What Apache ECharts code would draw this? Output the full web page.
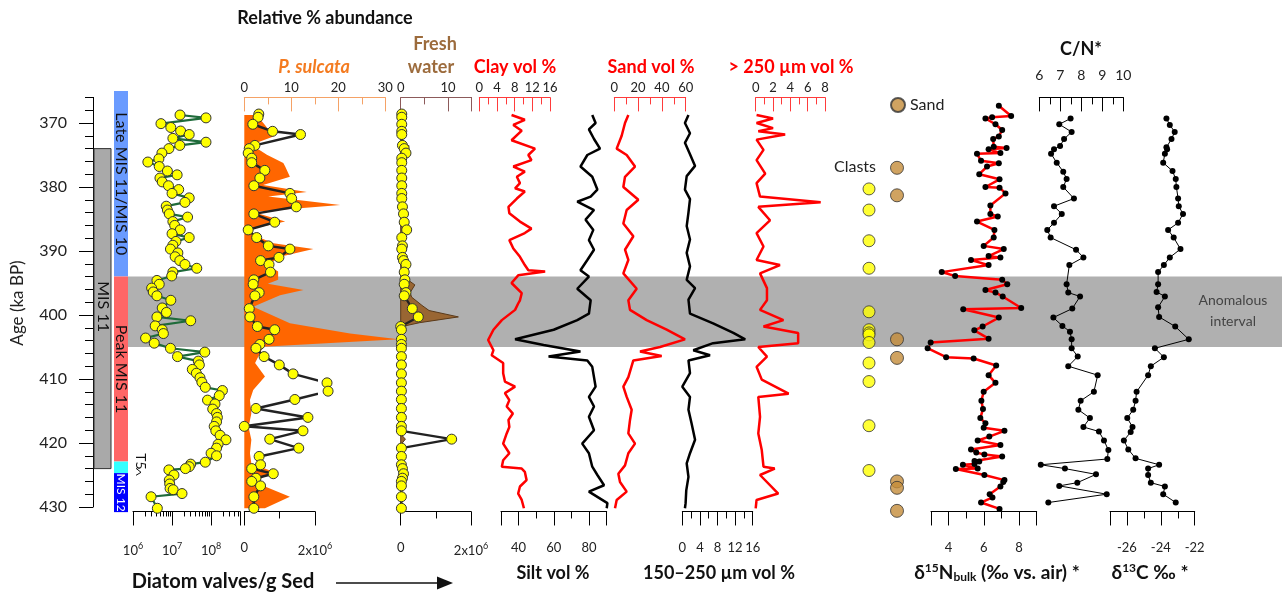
<!DOCTYPE html>
<html><head><meta charset="utf-8">
<script src="https://cdn.jsdelivr.net/npm/echarts@6/dist/echarts.min.js"></script>
<style>html,body{margin:0;padding:0;background:#fff}#c{width:1282px;height:593px}</style>
</head><body><div id="c"></div>
<script>
// ---------------- DATA ----------------
const stageNames = ['Late MIS 11/MIS 10', 'Peak MIS 11', 'T5', 'MIS 12'];
const stageStart = [365, 394, 422.9, 424.7];
const stageEnd = [394, 422.9, 424.7, 430.8];
const misBar = ['MIS 11', 374, 424];
const anomalous = [394, 405];

const diatomAges = [368.75,369.2,370.1,370.7,371.25,371.8,372.4,373.0,373.5,374.0,374.7,375.6,376.1,376.8,377.5,378.1,378.6,379.2,379.8,380.4,381.0,381.7,382.4,383.0,383.6,384.2,384.7,385.4,386.0,386.7,387.3,387.9,388.5,389.1,389.7,390.3,390.9,391.5,392.1,392.7,393.3,393.9,394.6,395.2,395.8,396.4,397.0,397.7,398.9,399.6,400.3,400.9,401.7,402.3,402.9,403.6,404.4,405.2,405.8,406.5,407.2,407.8,408.5,409.1,409.8,410.5,411.3,411.8,412.6,413.3,413.9,414.7,415.4,416.0,416.7,417.4,418.1,418.8,419.5,420.2,420.8,421.6,422.0,423.0,423.3,423.7,424.0,424.2,425.0,425.8,426.4,427.1,427.3,427.9,428.4,430.2];
const diatomValves = [1.6e7,7.4e7,5.2e6,9.3e6,1.66e7,2.75e7,1.05e7,7.4e7,1.58e7,8.3e6,5.5e6,4.6e6,2.4e6,4.7e6,7.6e6,1.35e7,4.9e6,5.6e6,8.1e6,1.48e7,1.0e7,2.75e7,2.14e7,7.1e6,7.6e6,8.5e6,2.5e7,1.05e7,1.17e7,1.62e7,1.0e7,2.75e7,1.26e7,1.05e7,9.1e6,1.41e7,1.2e7,1.58e7,2.14e7,4.3e7,1.05e7,9.8e6,4.1e6,4.7e6,3.0e6,3.3e6,4.1e6,9.3e6,5.6e6,7.2e6,4.1e6,3.0e7,3.7e6,5.6e6,6.0e6,2.1e6,3.5e6,9.1e6,6.9e7,1.38e7,4.7e7,5.0e7,3.3e7,4.2e7,5.2e7,5.8e7,7.1e7,1.95e8,1.62e8,8.1e7,1.26e8,1.1e8,1.38e8,1.45e8,1.38e8,1.2e8,1.32e8,1.7e8,2.4e8,1.51e8,1.38e8,1.0e8,1.38e8,7.1e7,3.0e7,2.75e7,2.2e7,8.3e6,1.12e7,8.5e6,8.7e6,8.9e6,1.07e7,1.8e7,2.9e6,4.2e6];

const sulcAges = [368.6,369.1,370.2,371.3,371.8,373.5,374.0,374.7,375.5,376.2,377.4,378.6,379.8,381.0,381.8,383.1,384.2,385.5,386.7,387.9,389.2,389.7,391.0,391.5,392.1,393.3,394.5,395.2,396.5,397.0,399.0,400.3,401.8,402.3,403.8,404.6,405.2,406.5,407.8,409.2,410.6,411.9,413.2,414.6,416.0,417.4,418.1,419.4,420.8,422.1,423.4,424.0,424.8,425.5,426.0,426.7,428.4,430.2];
const sulcValves = [4.1e5,3.9e5,2.4e5,8.0e5,1.59e6,3.0e5,1.4e5,1.1e5,2.1e5,2.1e5,5.8e5,4.4e5,2.7e5,1.29e6,1.34e6,1.47e6,2.7e5,8.6e5,1.1e5,3.5e5,6.8e5,1.29e6,9.8e5,4.6e5,7.0e5,7.4e5,2.7e5,2.5e5,4.2e5,3.0e5,1.4e5,1.6e5,3.7e5,8.6e5,7.0e5,4.4e5,3.3e5,5.6e5,9.9e5,1.38e6,2.34e6,2.37e6,1.43e6,3.3e5,1.8e6,0,1.66e6,7.2e5,1.54e6,4.2e5,4.6e5,2.1e5,8.2e5,3.3e5,2.1e5,4.6e5,2.7e5,2.7e5];
const freshValves = [3e4,3e4,3e4,3e4,3e4,5e4,1e5,1.5e5,3e4,3e4,3e4,3e4,3e4,3e4,3e4,5e4,8e4,1e5,1.7e5,3e4,5e4,3e4,5e4,8e4,1.5e5,1e5,1.2e5,1e5,1.5e5,1e5,3.3e5,5e5,0,2e4,2e4,2e4,2e4,2e4,2e4,2e4,2e4,2e4,2e4,2e4,2e4,2e4,2e4,1.45e6,2e4,2e4,2e4,5e4,8e4,5e4,2e4,2e4,2e4,2e4];

// [age, %]
const sulcPct = [[368.75,2.6],[370.3,4.4],[372.1,6.2],[373.4,1.5],[374.95,4.8],[376.25,8.3],[376.8,8.7],[378.4,9.7],[379.7,4.0],[380.8,13.3],[381.5,5.1],[382.8,20.4],[383.9,1.9],[385.4,8.7],[386.7,0.5],[387.5,1.9],[388.8,6.2],[389.7,14.7],[390.9,7.6],[392.2,5.0],[393.2,7.2],[394.5,7.2],[395.1,5.0],[396.1,12.6],[396.9,7.6],[398.7,1.9],[401.3,9.7],[402.9,22.5],[403.8,32.8],[404.95,4.0],[407.5,2.3],[409.6,4.4],[411.7,1.9],[413.3,1.2],[415.4,1.5],[417.5,0.9],[419.5,1.5],[421.6,1.2],[423.2,1.5],[424.5,6.2],[426.0,2.3],[426.8,4.4],[428.4,9.7],[430.2,4.4]];
const freshPct = [[368.7,0.3],[373.2,0.3],[373.6,1.8],[374.1,0.4],[386.2,0.4],[386.6,1.2],[387.2,0.4],[392.0,0.8],[393.5,0.8],[394.5,1.5],[395.3,3.0],[396.5,2.0],[397.2,2.3],[398.5,4.5],[399.3,6.0],[400.3,12.2],[401.2,4.0],[401.8,0.3],[403.0,0.0],[418.6,0.0],[419.4,1.0],[420.3,0.0],[430.2,0.2]];

// grain size [age, vol %]
const clay = [[368.75,7.3],[369.5,10.3],[370.3,7.7],[371.2,9.6],[372.7,7.3],[374.0,12.6],[375.0,11.1],[375.8,11.8],[376.8,7.7],[377.6,10.3],[378.4,8.5],[379.4,9.2],[380.2,8.1],[380.7,10.3],[381.8,8.5],[383.1,6.6],[384.1,6.8],[385.4,9.2],[386.5,11.8],[387.2,10.3],[388.3,6.8],[389.6,7.7],[390.9,9.2],[392.2,10.3],[393.0,11.1],[393.2,14.9],[393.8,8.8],[395.0,7.3],[396.6,9.6],[397.7,9.2],[398.2,8.8],[399.2,8.1],[400.8,5.1],[402.3,3.2],[403.9,2.0],[405.5,3.2],[406.3,2.8],[407.5,5.4],[409.1,5.4],[410.4,5.8],[411.2,8.1],[412.2,5.8],[413.3,6.8],[414.3,6.2],[415.4,7.6],[416.4,6.6],[417.5,6.8],[418.5,6.2],[420.1,5.4],[421.6,6.8],[422.7,5.4],[423.7,5.1],[424.0,9.6],[424.5,10.3],[425.8,10.7],[426.8,9.2],[427.9,8.8],[428.9,9.6],[430.2,10.1]];
const silt = [[368.75,81.8],[370.0,83.7],[371.0,79.9],[372.5,82.8],[374.0,86.2],[375.0,79.0],[376.8,75.1],[378.4,81.8],[380.4,84.7],[381.5,80.9],[382.3,73.3],[383.6,82.8],[385.1,78.0],[386.7,82.4],[388.3,79.9],[389.8,82.8],[391.4,79.0],[393.0,75.1],[394.0,79.9],[395.9,73.3],[397.7,80.9],[399.8,79.9],[400.8,73.3],[402.3,59.9],[403.8,38.0],[404.7,54.2],[405.7,75.1],[406.5,57.0],[407.1,79.0],[408.1,81.8],[411.2,83.7],[412.8,79.9],[414.3,82.8],[415.9,79.9],[418.0,82.8],[420.1,76.1],[421.6,79.9],[423.7,81.8],[425.0,84.7],[426.6,88.5],[427.6,79.9],[429.4,90.4],[430.2,90.0]];
const sand = [[368.75,11.8],[370.0,9.0],[372.0,6.2],[374.0,2.0],[375.0,10.4],[376.8,17.4],[378.4,9.0],[380.0,7.6],[382.0,20.2],[383.6,10.4],[385.7,7.6],[387.7,16.0],[389.8,9.0],[391.4,11.8],[393.5,7.6],[395.9,18.8],[397.7,11.8],[399.2,13.2],[400.8,27.2],[402.3,44.0],[403.8,59.4],[405.0,38.4],[405.7,21.6],[406.4,39.8],[407.1,16.0],[409.7,11.8],[411.2,7.6],[412.8,10.4],[414.8,14.6],[416.4,13.2],[418.5,11.8],[420.1,17.4],[421.6,11.8],[423.5,9.0],[424.8,3.4],[426.1,4.8],[427.6,10.4],[428.9,2.0],[430.2,0.6]];
const fine150 = [[368.75,1.4],[370.0,0.6],[371.6,1.75],[373.1,0.6],[374.9,1.75],[376.7,2.9],[378.3,1.0],[380.4,0.6],[381.9,1.75],[384.0,1.4],[386.1,1.0],[388.2,1.75],[390.3,1.0],[392.4,1.75],[394.5,1.0],[395.8,2.9],[397.6,1.4],[399.8,1.75],[401.3,7.0],[402.8,11.6],[403.8,14.3],[404.4,7.0],[405.5,2.5],[406.3,6.3],[407.1,1.4],[409.1,1.75],[411.2,0.0],[412.8,1.75],[414.8,1.4],[416.9,2.1],[419.5,2.9],[421.6,1.75],[423.2,1.0],[425.3,1.4],[427.4,0.9],[429.4,0.75],[430.2,0.6]];
const coarse250 = [[368.75,0.1],[369.3,2.0],[370.0,0.1],[370.8,2.0],[371.3,0.3],[371.8,3.4],[372.6,0.1],[374.2,0.9],[375.8,0.1],[377.9,1.1],[379.4,0.1],[381.5,0.5],[382.4,7.5],[383.1,0.3],[385.2,1.65],[387.2,0.1],[389.3,0.9],[391.4,0.1],[392.2,2.8],[393.5,0.5],[395.8,1.3],[397.7,1.3],[399.2,0.5],[400.8,3.2],[401.8,0.9],[402.8,4.9],[404.4,4.9],[405.0,0.3],[406.5,1.3],[408.1,0.1],[410.1,0.7],[412.3,3.8],[412.8,0.3],[415.9,0.5],[418.5,0.3],[421.1,0.7],[423.7,0.9],[424.0,2.2],[425.0,0.5],[427.9,2.6],[428.9,0.1],[430.2,0.0]];

const clastAges = [380.3,383.6,388.4,392.7,399.5,402.3,402.8,403.1,404.3,407.5,410.4,417.3,424.3];
const sandAges = [377.0,381.3,403.8,406.7,426.0,427.0,430.6];

// [age, value]
const d15N = [[367.3,6.85],[368.9,7.55],[369.1,6.47],[369.3,6.09],[370.2,6.66],[371.1,7.04],[372.1,6.85],[372.5,6.53],[373.7,6.56],[373.9,7.29],[374.1,6.27],[374.7,6.94],[374.8,5.61],[375.9,5.84],[376.3,6.85],[376.8,6.18],[378.0,5.74],[378.8,6.89],[380.0,6.09],[380.1,6.89],[381.0,7.23],[382.9,6.37],[384.2,6.37],[384.6,6.79],[385.4,5.61],[386.7,6.6],[387.9,6.56],[389.2,5.99],[389.7,7.13],[390.8,6.27],[391.0,6.94],[391.4,5.27],[392.2,6.27],[393.3,3.61],[393.9,4.37],[394.5,7.04],[395.2,7.33],[396.1,6.09],[396.5,6.66],[397.1,7.07],[398.9,8.12],[399.1,4.83],[400.4,6.85],[401.8,5.93],[402.4,5.46],[403.7,6.27],[404.3,2.98],[405.2,2.81],[406.6,3.86],[406.8,5.42],[407.9,6.7],[409.4,6.27],[410.6,6.66],[412.0,5.99],[413.4,5.86],[414.7,5.95],[416.1,5.8],[416.9,6.09],[417.6,5.99],[418.1,7.17],[419.0,6.31],[419.6,5.65],[420.3,6.94],[421.0,5.27],[421.5,5.57],[421.8,6.03],[422.1,7.04],[422.8,5.47],[422.9,5.74],[423.3,5.47],[423.4,4.81],[424.0,5.65],[424.05,4.41],[425.0,6.03],[425.8,7.17],[426.1,7.1],[426.8,6.94],[428.0,6.33],[428.5,6.49],[429.3,5.84],[430.3,6.89]];
const cn = [[369.3,7.49],[370.2,6.95],[371.4,7.54],[372.5,7.18],[373.6,6.99],[374.1,6.7],[374.8,6.56],[376.2,6.83],[377.6,7.14],[378.75,7.3],[380.0,7.14],[381.8,7.65],[383.0,6.7],[384.2,7.07],[385.6,6.7],[386.7,6.38],[387.9,6.54],[389.8,7.75],[391.0,8.1],[392.2,7.43],[395.2,7.3],[396.5,7.38],[397.1,7.94],[399.0,7.57],[400.4,6.67],[401.7,7.1],[402.6,7.46],[403.8,7.54],[405.2,7.54],[406.5,7.83],[408.0,7.38],[409.4,8.78],[412.0,8.6],[413.4,7.97],[414.8,7.86],[416.1,8.41],[417.5,8.1],[418.2,8.84],[419.6,9.08],[421.1,9.29],[422.5,9.24],[423.4,6.07],[424.0,7.22],[424.9,8.7],[426.2,7.81],[426.7,6.95],[428.0,9.21],[429.3,6.43]];
const d13C = [[369.3,-23.67],[370.3,-23.47],[371.4,-23.18],[372.5,-23.37],[373.8,-23.67],[374.1,-23.63],[374.8,-23.76],[376.2,-23.86],[377.5,-23.31],[378.75,-23.12],[380.0,-23.08],[381.8,-22.98],[383.0,-22.94],[384.2,-22.69],[385.6,-22.98],[386.7,-23.57],[387.9,-23.24],[389.7,-22.84],[391.0,-23.47],[392.2,-23.82],[393.3,-24.16],[395.2,-24.16],[396.4,-24.25],[397.1,-23.76],[398.8,-24.16],[400.3,-24.1],[401.8,-23.15],[403.8,-22.35],[405.2,-24.35],[406.6,-23.82],[408.0,-24.59],[409.4,-24.75],[412.0,-25.43],[413.4,-25.49],[414.8,-25.63],[416.1,-25.98],[417.5,-25.67],[418.3,-25.78],[419.6,-26.18],[421.0,-25.92],[422.4,-25.49],[423.4,-24.1],[424.0,-24.75],[425.0,-24.75],[426.2,-24.59],[426.8,-23.76],[428.0,-23.86],[429.3,-23.12]];

// tick / label values
const ageLabels = [370,380,390,400,410,420,430];
const ageMinor = [366,368,372,374,376,378,382,384,386,388,392,394,396,398,402,404,406,408,412,414,416,418,422,424,426,428];
const logLabels = [1e6,1e7,1e8];
const logMinor = [2e6,3e6,4e6,5e6,6e6,7e6,8e6,9e6,2e7,3e7,4e7,5e7,6e7,7e7,8e7,9e7,2e8,3e8,4e8,5e8];

// ---------------- LAYOUT / STYLE ----------------
const FONT = 'Lato, "Noto Sans", sans-serif';
const Y0 = 123, PX = 6.4;          // pixel of age 370, px per ka
const P0 = 366, P1 = 430.7;        // panel age range
const RED = '#FF0000';
const RICH = {
  s: {fontSize: 9, padding: [0, 0, 9, 0], fontFamily: FONT, color: '#222'}
};
const STAGE_COLORS = {'Late MIS 11/MIS 10': '#6A9BFF', 'Peak MIS 11': '#FF6666', 'T5': '#33FFFF', 'MIS 12': '#0000FF'};

const grids = [], xAxes = [], yAxes = [], series = [];

function panel(left, width, a0, a1) {
  grids.push({left: left, width: width, top: Y0 + (a0 - 370) * PX, height: (a1 - a0) * PX});
  const gi = grids.length - 1;
  yAxes.push({gridIndex: gi, type: 'value', min: a0, max: a1, inverse: true, show: false});
  return {gi: gi, yi: yAxes.length - 1};
}
function hiddenX(p, cfg) {
  xAxes.push(Object.assign({gridIndex: p.gi, show: false}, cfg));
  return xAxes.length - 1;
}
function axis(list, gi, s) {
  const inside = s.position === 'top';
  const col = s.color || '#000';
  const base = {gridIndex: gi, type: s.type || 'value', position: s.position, min: s.min, max: s.max,
    inverse: !!s.inverse, splitLine: {show: false}, z: 3};
  if (s.type === 'log') base.logBase = 10;
  list.push(Object.assign({}, base, {
    axisLine: {show: true, onZero: false, lineStyle: {color: col, width: 1}},
    axisTick: {show: true, inside: inside, length: s.tickLen || 14, customValues: s.major, lineStyle: {color: col, width: 1}},
    axisLabel: {show: true, customValues: s.labels, margin: s.margin, color: '#222', fontSize: s.fontSize || 13,
      fontFamily: FONT, formatter: s.formatter, rich: RICH}
  }));
  const idx = list.length - 1;
  if (s.minor) list.push(Object.assign({}, base, {
    axisLine: {show: false, onZero: false},
    axisTick: {show: true, inside: inside, length: s.minorLen || 7, customValues: s.minor, lineStyle: {color: col, width: 1}},
    axisLabel: {show: false}
  }));
  return idx;
}
const xy = pairs => pairs.map(p => [p[1], p[0]]);
const zipXY = (ages, vals) => ages.map((a, i) => [vals[i], a]);
const YELLOW = {fill: '#FFFF00', border: '#333', bw: 1, size: 10};
const BLACKDOT = {fill: '#000', border: '#000', bw: 0, size: 6};

function line(p, xi, data, color, width, sym, z) {
  series.push({type: 'line', xAxisIndex: xi, yAxisIndex: p.yi, data: data, clip: false, silent: true,
    lineStyle: {color: color, width: width},
    itemStyle: sym ? {color: sym.fill, borderColor: sym.border, borderWidth: sym.bw} : {color: color},
    symbol: sym ? 'circle' : 'none', symbolSize: sym ? sym.size : 0, showSymbol: !!sym, z: z || 3});
}
function area(p, xi, data, fill, stroke) {
  series.push({type: 'custom', xAxisIndex: xi, yAxisIndex: p.yi, data: data, clip: false, silent: true, z: 2,
    renderItem: function (params, api) {
      if (params.dataIndex !== 0) return null;
      const pts = data.map(d => api.coord(d));
      pts.unshift(api.coord([0, data[0][1]]));
      pts.push(api.coord([0, data[data.length - 1][1]]));
      return {type: 'polygon', shape: {points: pts},
        style: {fill: fill, stroke: stroke || null, lineWidth: stroke ? 1 : 0}};
    }});
}

// ---- background band ----
const band = panel(128, 1154, 365, 431);
const bandX = hiddenX(band, {type: 'value', min: 0, max: 1});
series.push({type: 'custom', xAxisIndex: bandX, yAxisIndex: band.yi, data: [anomalous], silent: true, z: 0,
  renderItem: function (params, api) {
    const cs = params.coordSys;
    const y1 = api.coord([0, api.value(0)])[1], y2 = api.coord([0, api.value(1)])[1];
    return {type: 'rect', shape: {x: cs.x, y: y1, width: cs.width, height: y2 - y1}, style: {fill: '#B0B0B0'}};
  }});

// ---- stage bars ----
const st = panel(94, 35, 365, 431);
const stX = hiddenX(st, {type: 'value', min: 0, max: 1});
series.push({type: 'custom', xAxisIndex: stX, yAxisIndex: st.yi, data: [[misBar[1], misBar[2]]], silent: true, z: 2,
  renderItem: function (params, api) {
    const cs = params.coordSys;
    const y1 = api.coord([0, api.value(0)])[1], y2 = api.coord([0, api.value(1)])[1];
    return {type: 'group', children: [
      {type: 'rect', shape: {x: cs.x, y: y1, width: 17, height: y2 - y1}, style: {fill: '#A9A9A9', stroke: '#333', lineWidth: 1}},
      {type: 'text', x: cs.x + 9, y: y1 + 158, rotation: -Math.PI / 2,
        style: {text: misBar[0], fill: '#111', font: '16px ' + FONT, align: 'center', verticalAlign: 'middle'}}
    ]};
  }});
series.push({type: 'custom', xAxisIndex: stX, yAxisIndex: st.yi,
  data: stageStart.map((s, i) => [s, stageEnd[i]]), silent: true, z: 2,
  renderItem: function (params, api) {
    const cs = params.coordSys;
    const name = stageNames[params.dataIndex];
    const y1 = api.coord([0, api.value(0)])[1], y2 = api.coord([0, api.value(1)])[1];
    const x = cs.x + 20, w = 14, ym = (y1 + y2) / 2;
    const ch = [{type: 'rect', shape: {x: x, y: y1, width: w, height: y2 - y1}, style: {fill: STAGE_COLORS[name]}}];
    if (name === 'T5') {
      ch.push({type: 'text', x: x + w + 13, y: ym - 6, rotation: -Math.PI / 2,
        style: {text: name, fill: '#111', font: '14px ' + FONT, align: 'center', verticalAlign: 'middle'}});
      ch.push({type: 'polyline', shape: {points: [[x + w + 8, ym + 1], [x + w + 13, ym + 5], [x + w + 8, ym + 8]]},
        style: {stroke: '#111', lineWidth: 1, fill: null}});
    } else {
      const white = name === 'MIS 12';
      ch.push({type: 'text', x: x + w / 2, y: ym, rotation: -Math.PI / 2,
        style: {text: name, fill: white ? '#fff' : '#111', font: (white ? '12px ' : '16px ') + FONT,
          align: 'center', verticalAlign: 'middle'}});
    }
    return {type: 'group', children: ch};
  }});

// ---- age axis ----
const ageG = panel(93, 1, 366, 430);
hiddenX(ageG, {type: 'value', min: 0, max: 1});
yAxes[ageG.yi] = {gridIndex: ageG.gi, type: 'value', min: 366, max: 430, inverse: true, position: 'left',
  splitLine: {show: false},
  axisLine: {show: true, lineStyle: {color: '#000'}},
  axisTick: {show: true, length: 14, customValues: ageLabels, lineStyle: {color: '#000'}},
  axisLabel: {customValues: ageLabels, margin: 26, fontSize: 16, color: '#222', fontFamily: FONT}};
yAxes.push({gridIndex: ageG.gi, type: 'value', min: 366, max: 430, inverse: true, position: 'left',
  splitLine: {show: false}, axisLine: {show: false},
  axisTick: {show: true, length: 8, customValues: ageMinor, lineStyle: {color: '#000'}},
  axisLabel: {show: false}});

// ---- diatom valves (log) ----
const dia = panel(133, 107, P0, P1);
const diaX = axis(xAxes, dia.gi, {type: 'log', position: 'bottom', min: 1e6, max: 5.5e8, labels: logLabels,
  major: [1e6, 1e7, 1e8, 5.5e8], minor: logMinor, minorLen: 5, margin: 30,
  formatter: v => '10{s|' + Math.round(Math.log10(v)) + '}'});
line(dia, diaX, zipXY(diatomAges, diatomValves), '#1E6B3A', 2.2, YELLOW, 4);

// ---- P. sulcata ----
const ps = panel(244.3, 141, P0, P1);
const psX = axis(xAxes, ps.gi, {position: 'top', min: 0, max: 30, labels: [0, 10, 20, 30], major: [0, 10, 20, 30],
  minor: [5, 15, 25], color: '#F5A266', margin: 3});
area(ps, psX, xy(sulcPct), '#FF6600');
const psv = panel(244.3, 70.7, P0, P1);
const valveFmt = v => v === 0 ? '0' : '2x10{s|6}';
const psvX = axis(xAxes, psv.gi, {position: 'bottom', min: 0, max: 2e6, labels: [0, 2e6], major: [0, 2e6],
  minor: [1e6], margin: 30, formatter: valveFmt});
line(psv, psvX, zipXY(sulcAges, sulcValves), '#222', 2.5, YELLOW, 4);

// ---- Fresh water ----
const fw = panel(400.7, 70.9, P0, P1);
const fwX = axis(xAxes, fw.gi, {position: 'top', min: 0, max: 15, labels: [0, 10], major: [0, 10, 15],
  minor: [5], color: '#8C5A5A', margin: 3});
area(fw, fwX, xy(freshPct), '#996633', '#5A3A1A');
const fwv = panel(400.7, 70.3, P0, P1);
const fwvX = axis(xAxes, fwv.gi, {position: 'bottom', min: 0, max: 2e6, labels: [0, 2e6], major: [0, 2e6],
  minor: [1e6], margin: 30, formatter: valveFmt});
line(fwv, fwvX, zipXY(sulcAges, freshValves), '#222', 2.2, YELLOW, 4);

// ---- grain size ----
const cl = panel(479.3, 70.7, P0, P1);
const clX = axis(xAxes, cl.gi, {position: 'top', min: 0, max: 16, labels: [0, 4, 8, 12, 16], major: [0, 4, 8, 12, 16],
  minor: [2, 6, 10, 14], color: '#FF3B3B', margin: 3});
line(cl, clX, xy(clay), RED, 2.5);
const si = panel(501, 105.7, P0, P1);
const siX = axis(xAxes, si.gi, {position: 'bottom', min: 30, max: 90, labels: [40, 60, 80], major: [30, 40, 60, 80, 90],
  minor: [50, 70], margin: 30});
line(si, siX, xy(silt), '#000', 2.5);
const sa = panel(614.3, 71.4, P0, P1);
const saX = axis(xAxes, sa.gi, {position: 'top', min: 0, max: 60, labels: [0, 20, 40, 60], major: [0, 20, 40, 60],
  minor: [10, 30, 50], color: '#FF3B3B', margin: 3});
line(sa, saX, xy(sand), RED, 2.5);
const f1 = panel(682.3, 70.4, P0, P1);
const f1X = axis(xAxes, f1.gi, {position: 'bottom', min: 0, max: 16, labels: [0, 4, 8, 12, 16], major: [0, 4, 8, 12, 16],
  minor: [2, 6, 10, 14], margin: 30});
line(f1, f1X, xy(fine150), '#000', 2.5);
const c2 = panel(755.7, 69.3, P0, P1);
const c2X = axis(xAxes, c2.gi, {position: 'top', min: 0, max: 8, labels: [0, 2, 4, 6, 8], major: [0, 2, 4, 6, 8],
  minor: [1, 3, 5, 7], color: '#FF3B3B', margin: 3});
line(c2, c2X, xy(coarse250), RED, 2.5);

// ---- clasts / sand ----
const mk = panel(855, 56, P0, P1);
const mkX = hiddenX(mk, {type: 'category', data: ['Clasts', 'Sand'], boundaryGap: true});
series.push({type: 'scatter', name: 'Clasts', xAxisIndex: mkX, yAxisIndex: mk.yi, data: clastAges.map(a => ['Clasts', a]),
  symbolSize: 12, itemStyle: {color: '#FFFF00', borderColor: '#333', borderWidth: 1}, silent: true, z: 4, clip: false});
series.push({type: 'scatter', name: 'Sand', xAxisIndex: mkX, yAxisIndex: mk.yi, data: sandAges.map(a => ['Sand', a]),
  symbolSize: 13, itemStyle: {color: '#C48C3A', borderColor: '#333', borderWidth: 1}, silent: true, z: 4, clip: false});

// ---- d15N ----
const dn = panel(931, 105.7, P0, P1);
const dnX = axis(xAxes, dn.gi, {position: 'bottom', min: 3, max: 9, labels: [4, 6, 8], major: [3, 4, 6, 8, 9],
  minor: [5, 7], margin: 30});
line(dn, dnX, xy(d15N), RED, 2.5, BLACKDOT, 4);

// ---- C/N ----
const cnp = panel(1039.3, 84, P0, P1);
const cnX = axis(xAxes, cnp.gi, {position: 'top', min: 6, max: 10, labels: [6, 7, 8, 9, 10], major: [6, 7, 8, 9, 10],
  minor: [6.5, 7.5, 8.5, 9.5], margin: 15, fontSize: 14});
line(cnp, cnX, xy(cn), '#000', 1, BLACKDOT, 4);

// ---- d13C ----
const dc = panel(1110, 84.7, P0, P1);
const dcX = axis(xAxes, dc.gi, {position: 'bottom', min: -27, max: -22, labels: [-26, -24, -22], major: [-27, -26, -24, -22],
  minor: [-25, -23], margin: 30});
line(dc, dcX, xy(d13C), '#000', 1, BLACKDOT, 4);

// ---- texts ----
function txt(x, y, text, font, fill, align, extra) {
  return Object.assign({type: 'text', x: x, y: y, z: 100, silent: true,
    style: {text: text, font: font, fill: fill || '#111', align: align || 'center', textAlign: align || 'center',
      verticalAlign: 'middle', textVerticalAlign: 'middle'}}, extra || {});
}
const B18 = 'bold 18px ' + FONT;
const B19 = 'bold 19px ' + FONT;
const graphic = [
  txt(325, 18, 'Relative % abundance', B18),
  txt(314, 67, 'P. sulcata', 'italic bold 18px ' + FONT, '#F47B20'),
  txt(435, 44, 'Fresh', B18, '#9C6B3C'),
  txt(431, 67, 'water', B18, '#9C6B3C'),
  txt(515, 67, 'Clay vol %', B18, RED),
  txt(651, 67, 'Sand vol %', B18, RED),
  txt(791, 67, '> 250 µm vol %', B18, RED),
  txt(1081, 49, 'C/N*', B18),
  txt(1233, 300, 'Anomalous', '14px ' + FONT, '#444'),
  txt(1233, 321, 'interval', '14px ' + FONT, '#444'),
  txt(223, 582, 'Diatom valves/g Sed', 'bold 20px ' + FONT),
  txt(553, 573, 'Silt vol %', B18),
  txt(719, 573, '150–250 µm vol %', B18),
  txt(997, 573, '', B19, '#111', 'center',
    {style: {text: 'δ{s|15}N{b|bulk} (‰ vs. air) *', font: B19, fill: '#111', align: 'center', textAlign: 'center',
      verticalAlign: 'middle', textVerticalAlign: 'middle',
      rich: {s: {fontSize: 12, fontWeight: 'bold', padding: [0, 0, 10, 0], fontFamily: FONT, fill: '#111'},
             b: {fontSize: 12, fontWeight: 'bold', padding: [9, 0, 0, 0], fontFamily: FONT, fill: '#111'}}}}),
  txt(1150, 573, '', B19, '#111', 'center',
    {style: {text: 'δ{s|13}C ‰ *', font: B19, fill: '#111', align: 'center', textAlign: 'center',
      verticalAlign: 'middle', textVerticalAlign: 'middle',
      rich: {s: {fontSize: 12, fontWeight: 'bold', padding: [0, 0, 10, 0], fontFamily: FONT, fill: '#111'}}}}),
  txt(876, 167, 'Clasts', '16px ' + FONT, '#222', 'right'),
  txt(18, 303, 'Age (ka BP)', '17px ' + FONT, '#222', 'center', {rotation: Math.PI / 2}),
  {type: 'line', z: 100, silent: true, shape: {x1: 336, y1: 583, x2: 440, y2: 583}, style: {stroke: '#111', lineWidth: 1.5}},
  {type: 'polygon', z: 100, silent: true, shape: {points: [[437, 576.5], [453, 583], [437, 589.5]]}, style: {fill: '#111'}}
];

const chart = echarts.init(document.getElementById('c'), null, {renderer: 'canvas'});
chart.setOption({
  animation: false,
  backgroundColor: '#fff',
  textStyle: {fontFamily: FONT},
  grid: grids, xAxis: xAxes, yAxis: yAxes, series: series,
  legend: {data: ['Sand'], left: 890, top: 97, padding: 0, icon: 'circle', itemWidth: 14, itemHeight: 14,
    itemGap: 4, selectedMode: false, textStyle: {fontSize: 16, color: '#222', fontFamily: FONT}},
  graphic: graphic
});
</script></body></html>
